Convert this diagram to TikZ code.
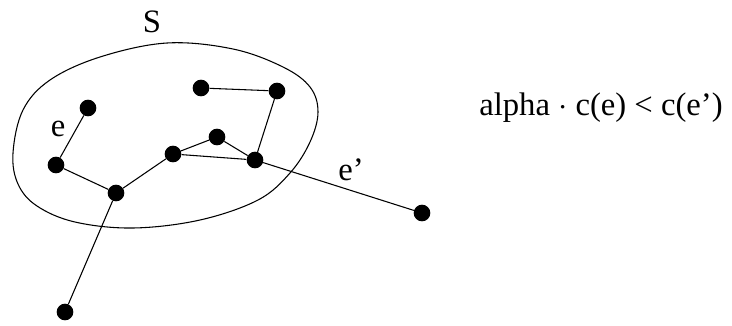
\documentclass[tikz,border=0pt]{standalone}
\usepackage{fontspec}
\setmainfont{Liberation Serif}
\begin{document}
\begin{tikzpicture}[x=0.75pt,y=-0.75pt,
  dot/.style={circle,fill=black,inner sep=0pt,minimum size=12.5pt},
  edge/.style={line width=0.8pt},
  lbl/.style={font=\fontsize{24.5}{28}\selectfont,inner sep=0pt}]
\useasboundingbox (0,0) rectangle (732,325);
\draw[line width=0.8pt] plot[smooth cycle,tension=0.6] coordinates
  {(13,153) (23,110) (50,80) (100,57) (167,43) (233,49) (283,67) (310,87) (318,112) (310,142) (290,173) (258,200) (200,220) (133,228) (75,222) (37,206) (18,184)};
\node[dot] (a) at (88,108) {};
\node[dot] (b) at (56,165) {};
\node[dot] (c) at (116,193) {};
\node[dot] (d) at (173,154) {};
\node[dot] (f) at (217,137) {};
\node[dot] (g) at (255,160) {};
\node[dot] (h) at (201,88) {};
\node[dot] (k) at (277,91) {};
\node[dot] (m) at (422,213) {};
\node[dot] (n) at (65,312) {};
\draw[edge] (a) -- (b) -- (c) -- (d) -- (f) -- (g) -- (k) -- (h);
\draw[edge] (d) -- (g) -- (m);
\draw[edge] (c) -- (n);
\node[lbl] (S) at (152,22) {S};
\node[lbl] (e) at (58,129) {e};
\node[lbl] (e2) at (351,170) {e’};
\node[lbl] (eq) at (601,108) {alpha $\cdot$ c(e) < c(e’)};
\end{tikzpicture}
\end{document}
